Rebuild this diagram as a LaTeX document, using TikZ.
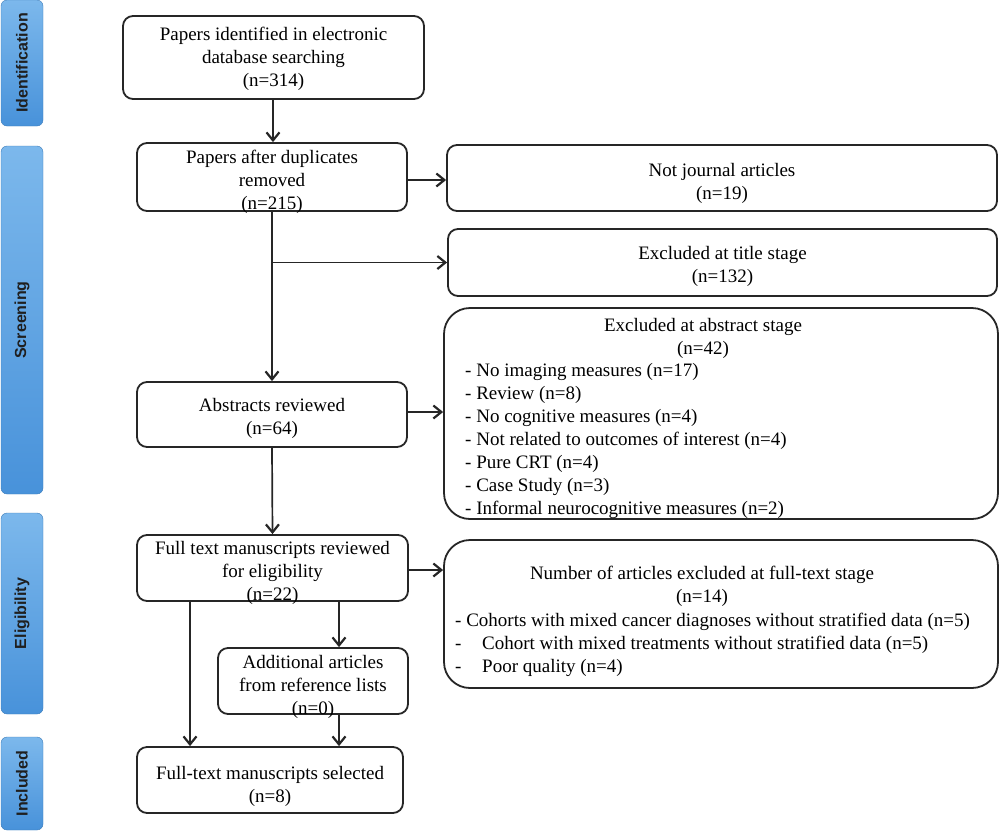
\documentclass[tikz,border=0pt]{standalone}
\usepackage{fontspec}
\setmainfont{Liberation Serif}
\newfontfamily\barfont{Liberation Sans}
\usetikzlibrary{arrows.meta}
\definecolor{barTop}{RGB}{124,184,236}
\definecolor{barBot}{RGB}{72,146,218}
\definecolor{edge}{RGB}{38,38,38}
\begin{document}
\begin{tikzpicture}[x=1pt,y=-1pt,
  box/.style={draw=edge, line width=1.8pt, rounded corners=10pt, inner sep=0pt},
  bigbox/.style={box, rounded corners=26pt},
  txt/.style={inner sep=0pt, font=\fontsize{19}{23}\selectfont},
  ctxt/.style={txt, align=center},
  bar/.style={rounded corners=6pt, top color=barTop, bottom color=barBot, draw=barBot!85!black, line width=0.4pt, inner sep=0pt},
  bartext/.style={rotate=90, inner sep=0pt, font=\barfont\bfseries\fontsize{16}{19}\selectfont, text=black!88},
  arr/.style={line width=1.7pt, draw=edge, -{Straight Barb[length=8pt,width=13pt,line width=2.2pt]}}
]
\useasboundingbox (0,0) rectangle (1000,833);

% side bars
\node[bar, minimum width=42pt, minimum height=126pt] (sid) at (22,63) {};
\node[bartext] at (sid.center) {Identification};
\node[bar, minimum width=42pt, minimum height=348pt] (sscr) at (22,320) {};
\node[bartext] at (sscr.center) {Screening};
\node[bar, minimum width=42pt, minimum height=201pt] (selig) at (22,613.5) {};
\node[bartext] at (selig.center) {Eligibility};
\node[bar, minimum width=42pt, minimum height=93pt] (sinc) at (22,783.5) {};
\node[bartext] at (sinc.center) {Included};

% left column
\node[box, minimum width=301pt, minimum height=83pt] (b1) at (273.5,57.5) {};
\node[ctxt] at ([yshift=-1pt]b1.center) {Papers identified in electronic\\database searching\\(n=314)};
\node[box, minimum width=270pt, minimum height=68pt] (b2) at (272,177) {};
\node[ctxt] at ([yshift=-5pt]b2.center) {Papers after duplicates\\removed\\(n=215)};
\node[box, minimum width=270pt, minimum height=65pt] (ar) at (272,414.5) {};
\node[ctxt] at ([yshift=-4pt]ar.center) {Abstracts reviewed\\(n=64)};
\node[box, minimum width=271pt, minimum height=66pt] (ft) at (272.5,568) {};
\node[ctxt] at ([yshift=-5pt]ft.center) {Full text manuscripts reviewed\\for eligibility\\(n=22)};
\node[box, minimum width=190pt, minimum height=66pt] (ad) at (313,681) {};
\node[ctxt] at ([yshift=-6pt]ad.center) {Additional articles\\from reference lists\\(n=0)};
\node[box, minimum width=266pt, minimum height=66pt] (se) at (270,780) {};
\node[ctxt] at ([yshift=-6pt]se.center) {Full-text manuscripts selected\\(n=8)};

% right column
\node[box, minimum width=550pt, minimum height=66pt] (nj) at (722,178) {};
\node[ctxt] at ([yshift=-5pt]nj.center) {Not journal articles\\(n=19)};
\node[box, minimum width=549pt, minimum height=67pt] (ti) at (722.5,262.5) {};
\node[ctxt] at ([yshift=-4pt]ti.center) {Excluded at title stage\\(n=132)};
\node[bigbox, minimum width=554pt, minimum height=211pt] (ab) at (721,413.5) {};
\node[ctxt] (abh) at (703,338) {Excluded at abstract stage\\(n=42)};
\node[txt, align=left, anchor=west] (abl) at (465,441)
  {- No imaging measures (n=17)\\
   - Review (n=8)\\
   - No cognitive measures (n=4)\\
   - Not related to outcomes of interest (n=4)\\
   - Pure CRT (n=4)\\
   - Case Study (n=3)\\
   - Informal neurocognitive measures (n=2)};
\node[bigbox, minimum width=554pt, minimum height=148pt] (nb) at (721,614) {};
\node[ctxt] (nbh) at (702,586.5) {Number of articles excluded at full-text stage\\(n=14)};
\node[txt, align=left, anchor=west] (nbl) at (455,645)
  {- Cohorts with mixed cancer diagnoses without stratified data (n=5)\\
   \makebox[27pt][l]{-}Cohort with mixed treatments without stratified data (n=5)\\
   \makebox[27pt][l]{-}Poor quality (n=4)};

% connector helpers
\coordinate (xl) at (190,0);
\coordinate (xr) at (339,0);
\coordinate (xt) at (273,0);

% connectors
\draw[arr] (b1.south -| xt) -- (b2.north -| xt);
\draw[arr] (b2.east |- 0,180) -- (nj.west |- 0,180);
\draw[arr] (b2.south) -- (ar.north);
\draw[arr] (b2.south |- ti.west) -- (ti.west);
\draw[arr] (ar.east |- 0,412) -- (ab.west |- 0,412);
\draw[arr] (ar.south) -- (ft.north);
\draw[arr] (ft.east |- 0,570) -- (nb.west |- 0,570);
\draw[arr] (ft.south -| xl) -- (se.north -| xl);
\draw[arr] (ft.south -| xr) -- (ad.north -| xr);
\draw[arr] (ad.south -| xr) -- (se.north -| xr);
\end{tikzpicture}
\end{document}
